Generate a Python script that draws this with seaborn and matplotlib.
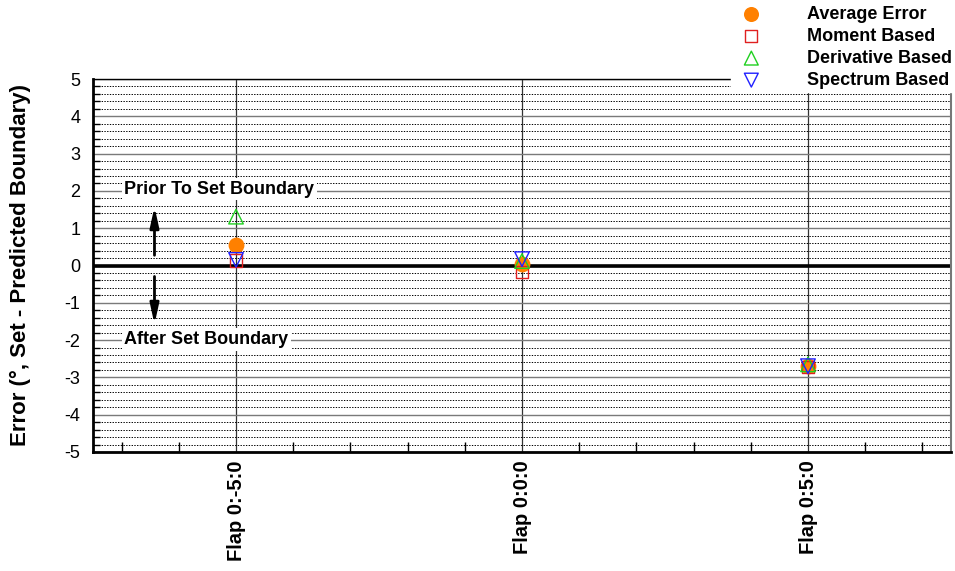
import matplotlib
matplotlib.use("Agg")
import matplotlib.pyplot as plt
import seaborn as sns
import pandas as pd
import numpy as np
from matplotlib.ticker import MultipleLocator, FixedLocator

sns.set_theme(style="white")
plt.rcParams['font.family'] = ['Liberation Sans', 'DejaVu Sans']
plt.rcParams['text.color'] = 'black'
plt.rcParams['axes.labelcolor'] = 'black'
plt.rcParams['xtick.color'] = 'black'
plt.rcParams['ytick.color'] = 'black'

categories = ["Flap 0:-5:0", "Flap 0:0:0", "Flap 0:5:0"]
average_error = [0.55, 0.04, -2.70]
moment_based = [0.13, -0.17, -2.72]
derivative_based = [1.31, 0.12, -2.65]
spectrum_based = [0.15, 0.17, -2.70]

series_names = ["Average Error", "Moment Based", "Derivative Based", "Spectrum Based"]
series_values = [average_error, moment_based, derivative_based, spectrum_based]
series_colors = ["#ff8000", "#e02020", "#20d020", "#2020ff"]
series_markers = ["o", "s", "^", "v"]
series_sizes = [130, 80, 110, 110]
series_filled = [True, False, False, False]

rows = []
for name, vals in zip(series_names, series_values):
    for i, v in enumerate(vals):
        rows.append({"series": name, "pos": i, "value": v})
df = pd.DataFrame(rows)

fig = plt.figure(figsize=(9.55, 5.71), dpi=100)
ax = fig.add_axes([93/955, 1-452/571, (951-93)/955, (452-79)/571])

ax.set_xlim(-0.5, 2.5)
ax.set_ylim(-5, 5)

# grids
ax.yaxis.set_major_locator(MultipleLocator(1))
ax.yaxis.set_minor_locator(MultipleLocator(0.2))
ax.xaxis.set_major_locator(FixedLocator([0, 1, 2]))
ax.xaxis.set_minor_locator(MultipleLocator(0.2))
ax.grid(which='major', axis='y', color='#7a7a7a', linewidth=1.0, linestyle='-')
ax.grid(which='minor', axis='y', color='black', linewidth=0.7, linestyle=(0, (1.4, 1.4)))
ax.grid(which='major', axis='x', color='#333333', linewidth=0.9, linestyle='-')
ax.set_axisbelow(True)
ax.axhline(0, color='black', linewidth=2.6, zorder=1.5)

for name, color, marker, size, filled in zip(series_names, series_colors, series_markers, series_sizes, series_filled):
    sub = df[df["series"] == name]
    if filled:
        sns.scatterplot(data=sub, x="pos", y="value", ax=ax, color=color, marker=marker,
                        s=size, edgecolor=color, linewidth=0, label=name, zorder=3)
    else:
        sns.scatterplot(data=sub, x="pos", y="value", ax=ax, marker=marker, s=size,
                        facecolor='none', edgecolor=color, linewidth=1.0, label=name, zorder=4)

ax.set_xticks([0, 1, 2])
ax.set_xticklabels(categories, rotation=90, fontweight='bold', fontsize=14.5)
ax.tick_params(axis='x', which='major', direction='in', length=6, width=1, color='black', pad=6)
ax.tick_params(axis='x', which='minor', direction='in', length=7, width=1, color='black', bottom=True)
ax.tick_params(axis='y', which='major', direction='in', length=10, width=1, color='black', labelsize=13, pad=9)
ax.tick_params(axis='y', which='minor', direction='in', length=5, width=1, color='black', left=True)
ax.set_yticks(np.arange(-5, 6, 1))
ax.set_yticklabels([str(v) for v in range(-5, 6)])

ax.set_xlabel("")
ax.set_ylabel("Error (°, Set - Predicted Boundary)", fontweight='bold', fontsize=16, labelpad=24)

for side in ['left', 'bottom']:
    ax.spines[side].set_color('black')
    ax.spines[side].set_linewidth(2)
ax.spines['top'].set_color('black')
ax.spines['top'].set_linewidth(1)
ax.spines['right'].set_color('#777777')
ax.spines['right'].set_linewidth(1.5)

# annotations
bbox = dict(facecolor='white', edgecolor='none', pad=2)
ax.text(-0.39, 2.05, "Prior To Set Boundary", fontsize=13, fontweight='bold', ha='left', va='center', bbox=bbox, zorder=5)
ax.text(-0.39, -1.98, "After Set Boundary", fontsize=13, fontweight='bold', ha='left', va='center', bbox=bbox, zorder=5)
ax.annotate("", xy=(-0.285, 1.65), xytext=(-0.285, 0.2),
            arrowprops=dict(arrowstyle='-|>,head_length=1.0,head_width=0.22', color='black', lw=2), zorder=5)
ax.annotate("", xy=(-0.285, -1.65), xytext=(-0.285, -0.22),
            arrowprops=dict(arrowstyle='-|>,head_length=1.0,head_width=0.22', color='black', lw=2), zorder=5)

leg = ax.legend(loc='upper right', bbox_to_anchor=(1.0, 1 - 3/571), bbox_transform=fig.transFigure,
                frameon=True, fancybox=False, framealpha=1, facecolor='white', edgecolor='white',
                prop={'weight': 'bold', 'size': 13}, labelspacing=0.28, handletextpad=2.1,
                handlelength=2.0, borderpad=0.15, borderaxespad=0, markerscale=0.95)
leg.set_zorder(10)

fig.savefig("out.png", dpi=100)
